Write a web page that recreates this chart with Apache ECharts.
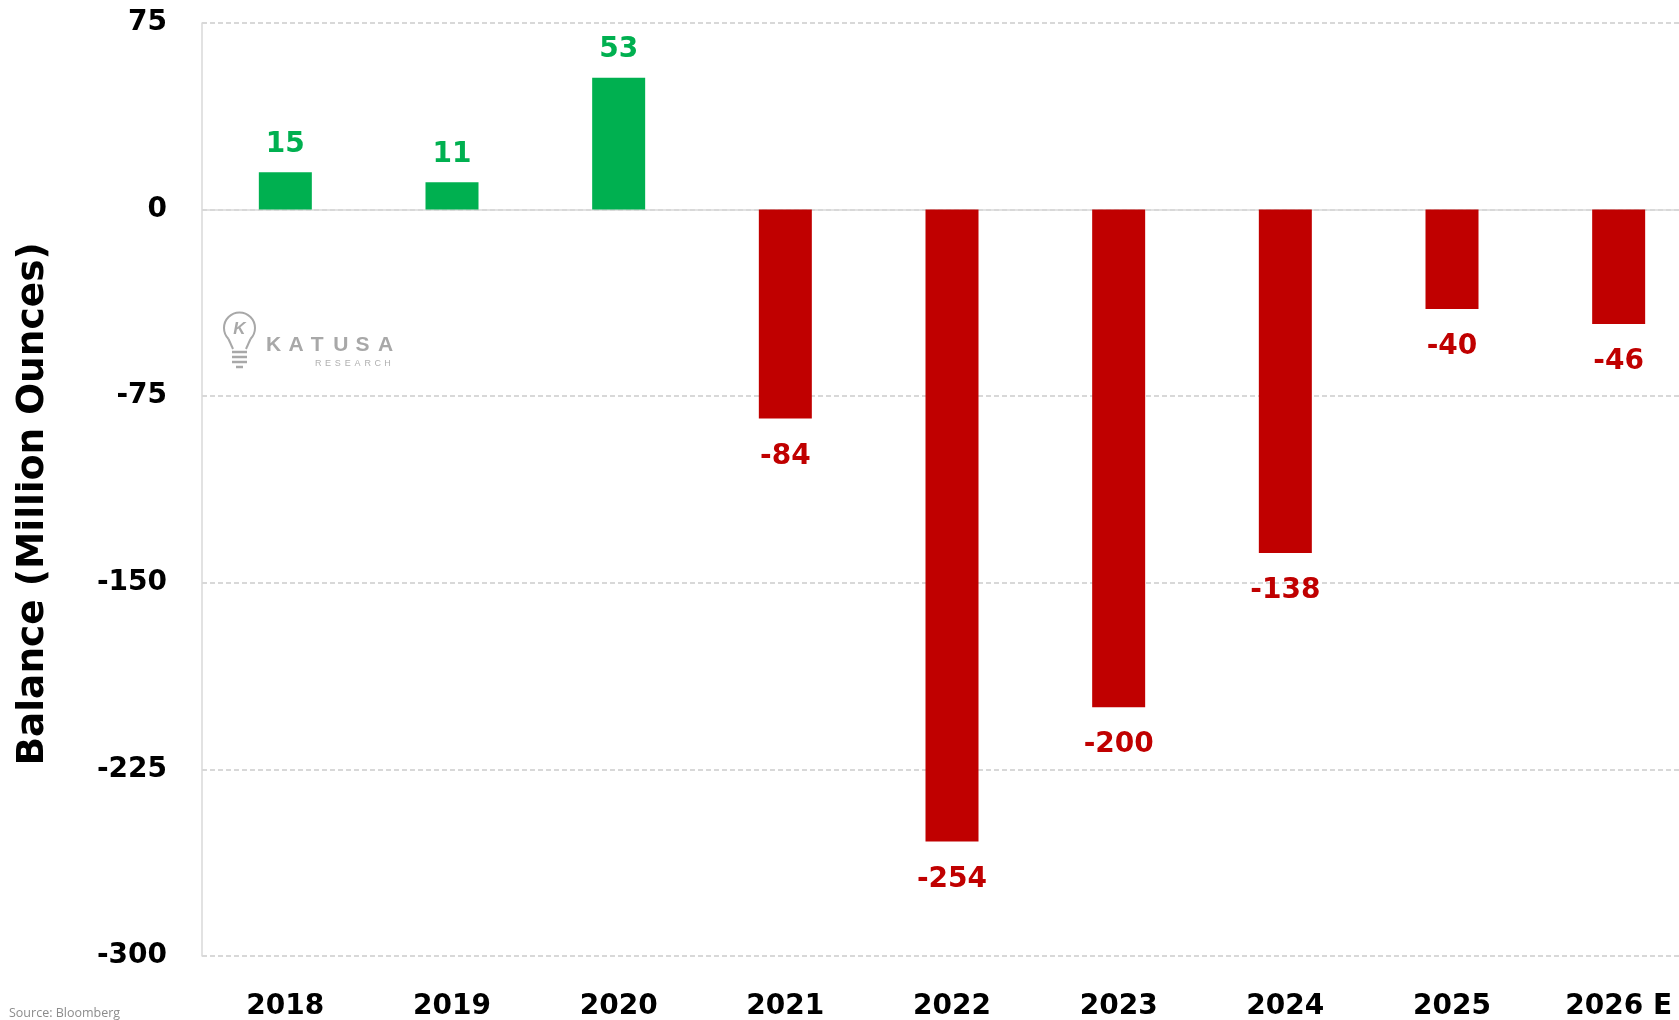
<!DOCTYPE html>
<html>
<head>
<meta charset="utf-8">
<script src="https://cdn.jsdelivr.net/npm/echarts@6/dist/echarts.min.js"></script>
<style>
html,body{margin:0;padding:0;background:#fff;overflow:hidden;}
#wrap{width:1679px;height:1020px;overflow:hidden;position:relative;}
#chart{width:1702px;height:1020px;position:absolute;left:0;top:0;}
</style>
</head>
<body>
<div id="wrap"><div id="chart"></div></div>
<script>
var categories = ['2018','2019','2020','2021','2022','2023','2024','2025','2026 E'];
var balances = [15, 11, 53, -84, -254, -200, -138, -40, -46];
var yTicks = {min: -300, max: 75, interval: 75};
var yTitle = 'Balance (Million Ounces)';
var sourceText = 'Source: Bloomberg';

var GREEN = '#00b050', RED = '#c00000';
var FONT = 'DejaVu Sans';

var chart = echarts.init(document.getElementById('chart'));

var barData = balances.map(function (v) {
  var pos = v >= 0;
  return {
    value: v,
    itemStyle: {color: pos ? GREEN : RED},
    label: {
      position: pos ? 'top' : 'bottom',
      distance: pos ? 14 : 24,
      color: pos ? GREEN : RED
    }
  };
});

var WM = '#a8a8a8';
var wm = [];
'KATUSA'.split('').forEach(function (ch, i) {
  wm.push({type: 'text', x: 266 + i * 22.4, y: 345, style: {text: ch, fill: WM, font: 'bold 21px "Liberation Sans", Arial', textAlign: 'left', textVerticalAlign: 'middle'}, z: 1});
});
'RESEARCH'.split('').forEach(function (ch, i) {
  wm.push({type: 'text', x: 315 + i * 9.9, y: 364, style: {text: ch, fill: '#b0b0b0', font: '9px "Liberation Sans", Arial', textAlign: 'left', textVerticalAlign: 'middle'}, z: 1});
});
// bulb outline
wm.push({type: 'arc', shape: {cx: 239.5, cy: 328, r: 15.5, startAngle: Math.PI * 0.75, endAngle: Math.PI * 2.25, clockwise: true}, style: {fill: 'none', stroke: WM, lineWidth: 2}, z: 1});
wm.push({type: 'line', shape: {x1: 228.5, y1: 339, x2: 233, y2: 349}, style: {stroke: WM, lineWidth: 2}, z: 1});
wm.push({type: 'line', shape: {x1: 250.5, y1: 339, x2: 246, y2: 349}, style: {stroke: WM, lineWidth: 2}, z: 1});
wm.push({type: 'text', x: 239.5, y: 329, style: {text: 'K', fill: WM, font: 'italic bold 17px "Liberation Sans", Arial', textAlign: 'center', textVerticalAlign: 'middle'}, z: 1});
[352, 357, 362].forEach(function (yy) {
  wm.push({type: 'line', shape: {x1: 232, y1: yy, x2: 247, y2: yy}, style: {stroke: WM, lineWidth: 2.5}, z: 1});
});
wm.push({type: 'line', shape: {x1: 236, y1: 367, x2: 243, y2: 367}, style: {stroke: WM, lineWidth: 2.5}, z: 1});

chart.setOption({
  backgroundColor: '#ffffff',
  animation: false,
  grid: {left: 202, right: 0, top: 23, bottom: 64, containLabel: false, outerBoundsMode: 'none'},
  xAxis: {
    type: 'category',
    data: categories,
    axisLine: {show: false, onZero: false},
    axisTick: {show: false},
    axisLabel: {color: '#000', fontFamily: FONT, fontWeight: 'bold', fontSize: 28, margin: 37},
    splitLine: {show: false}
  },
  yAxis: {
    type: 'value',
    min: yTicks.min,
    max: yTicks.max,
    interval: yTicks.interval,
    axisLine: {show: true, lineStyle: {color: '#d9d9d9', width: 1.5}},
    axisTick: {show: false},
    axisLabel: {color: '#000', fontFamily: FONT, fontWeight: 'bold', fontSize: 28, margin: 35},
    splitLine: {show: true, lineStyle: {color: '#cccccc', type: [5, 3], width: 1.5}}
  },
  series: [{
    type: 'bar',
    data: barData,
    barWidth: 53,
    label: {show: true, fontFamily: FONT, fontWeight: 'bold', fontSize: 28},
    markLine: {
      silent: true,
      symbol: 'none',
      label: {show: false},
      lineStyle: {color: '#d9d9d9', type: 'solid', width: 1.5},
      data: [{yAxis: 0}],
      z: 1
    },
    z: 3
  }],
  graphic: [
    {type: 'text', x: 33, y: 504, rotation: Math.PI / 2, style: {text: yTitle, fill: '#000', font: 'bold 37.5px "DejaVu Sans"', textAlign: 'center', textVerticalAlign: 'middle'}},
    {type: 'text', x: 9, y: 1013, style: {text: sourceText, fill: '#8c8c8c', font: '12.5px "Open Sans", "Liberation Sans"', textAlign: 'left', textVerticalAlign: 'middle'}}
  ].concat(wm)
});
</script>
</body>
</html>
